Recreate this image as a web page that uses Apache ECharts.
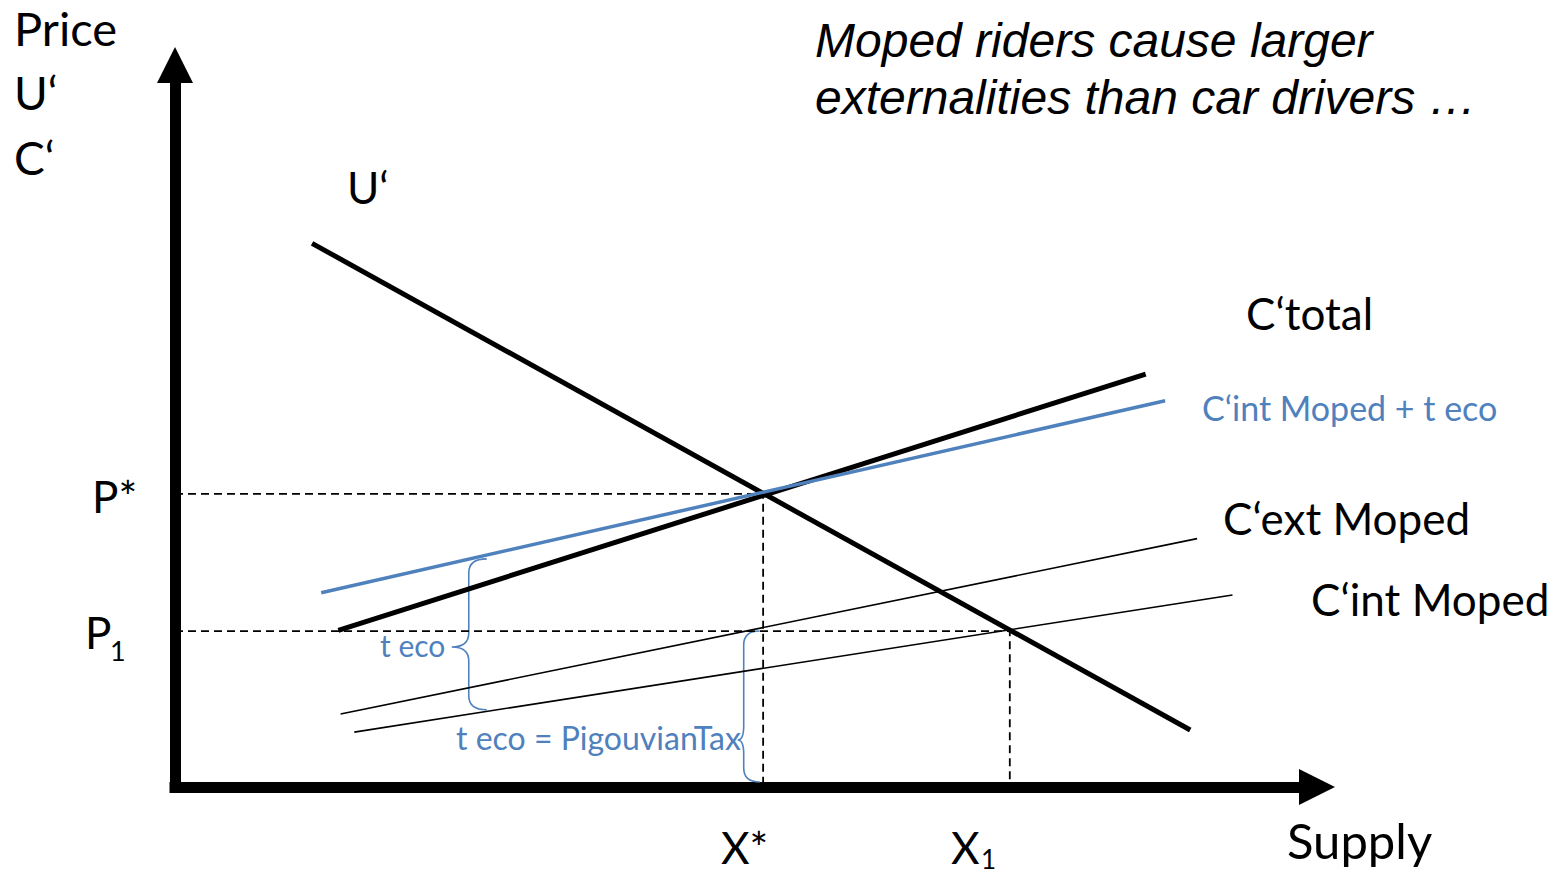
<!DOCTYPE html>
<html>
<head>
<meta charset="utf-8">
<title>Moped externalities</title>
<script src="https://cdn.jsdelivr.net/npm/echarts@6.0.0/dist/echarts.min.js"></script>
<style>
  html, body { margin: 0; padding: 0; background: #fff; }
  #main { width: 1560px; height: 874px; }
</style>
</head>
<body>
<div id="main"></div>
<script>
// curve end points in quantity / price units (both axes run 0 - 100)
const uMarginal = [[12.0, 75.3], [88.9, 7.9]];
const cTotal = [[14.3, 21.7], [85.0, 57.2]];
const cIntPlusTax = [[12.8, 26.9], [86.7, 53.5]];
const cExtMoped = [[14.5, 10.1], [89.5, 34.4]];
const cIntMoped = [[15.7, 7.6], [92.6, 26.6]];

// equilibrium points
const xStar = 51.5, pStar = 40.6;
const x1 = 73.1, p1 = 21.6;

// curly braces: [x, top, bottom, tip]
const braces = [
  [27.3, 31.6, 10.7, 19.4],
  [51.2, 21.6, 0.7, 6.5]
];

(function() {
  const chart = echarts.init(document.getElementById('main'), null, { renderer: 'svg' });
  const blue = '#4f81bd';
  const font = 'Lato';
  const braceDepth = [18, 16];
  const braceTip = [17, 6];

  function text(str, x, y, size, color, extra) {
    return {
      type: 'text',
      x: x,
      y: y,
      silent: true,
      style: Object.assign({
        text: str,
        fontFamily: font,
        fontSize: size,
        fill: color || '#000',
        textAlign: 'left',
        textVerticalAlign: 'middle'
      }, extra || {})
    };
  }

  function curve(data, width, color, dashed) {
    return {
      type: 'line',
      data: data,
      symbol: 'none',
      silent: true,
      animation: false,
      lineStyle: {
        width: width,
        color: color,
        type: dashed ? [8, 5] : 'solid'
      }
    };
  }

  const axisLine = {
    show: true,
    symbol: ['none', 'triangle'],
    symbolSize: [36, 36],
    lineStyle: { color: '#000', width: 11, cap: 'square' }
  };

  const option = {
    backgroundColor: '#fff',
    animation: false,
    grid: { left: 175, right: 243, top: 65, bottom: 87, outerBoundsMode: 'none' },
    xAxis: {
      type: 'value', min: 0, max: 100,
      axisLine: axisLine,
      axisTick: { show: false },
      axisLabel: { show: false },
      splitLine: { show: false }
    },
    yAxis: {
      type: 'value', min: 0, max: 100,
      axisLine: axisLine,
      axisTick: { show: false },
      axisLabel: { show: false },
      splitLine: { show: false }
    },
    series: [
      curve([[0, pStar], [xStar, pStar], [xStar, 0]], 1.8, '#000', true),
      curve([[0, p1], [x1, p1], [x1, 0]], 1.8, '#000', true),
      curve(cExtMoped, 1.6, '#000'),
      curve(cIntMoped, 1.6, '#000'),
      curve(cTotal, 5, '#000'),
      curve(uMarginal, 5, '#000'),
      curve(cIntPlusTax, 3.5, blue),
      {
        type: 'custom',
        data: braces,
        silent: true,
        animation: false,
        renderItem: function(params, api) {
          const x = api.value(0);
          const top = api.coord([x, api.value(1)]);
          const bot = api.coord([x, api.value(2)]);
          const tipY = api.coord([x, api.value(3)])[1];
          const d = braceDepth[params.dataIndex];
          const t = braceTip[params.dataIndex];
          const r = 14;
          const sx = top[0] - d;
          const path = [
            'M', top[0], top[1],
            'Q', sx, top[1], sx, top[1] + r,
            'L', sx, tipY - r,
            'Q', sx, tipY, sx - t, tipY,
            'Q', sx, tipY, sx, tipY + r,
            'L', sx, bot[1] - r,
            'Q', sx, bot[1], top[0], bot[1]
          ].join(' ');
          return {
            type: 'path',
            shape: { pathData: path },
            style: { stroke: blue, fill: 'none', lineWidth: 1.6 }
          };
        }
      }
    ],
    graphic: [
      text('Price', 14, 28, 47),
      text('U\u2018', 14, 92, 46),
      text('C\u2018', 14, 157, 46),
      text('U\u2018', 347, 187, 44),
      text('C\u2018total', 1246, 313, 44),
      text('C\u2018int Moped + t eco', 1202, 407, 34, blue),
      text('C\u2018ext Moped', 1223, 518, 44),
      text('C\u2018int Moped', 1311, 599, 44),
      text('P*', 92, 496, 44),
      text('P', 85, 632, 44),
      text('1', 110, 650, 27),
      text('X*', 721, 847, 44),
      text('X', 951, 847, 44),
      text('1', 981, 859, 26),
      text('Supply', 1287, 840, 49),
      text('t eco', 380, 645, 30, blue),
      text('t eco = PigouvianTax', 456, 737, 32, blue),
      text('Moped riders cause larger', 815, 40, 48, '#000',
        { fontFamily: 'Liberation Sans', fontStyle: 'italic' }),
      text('externalities than car drivers \u2026', 815, 97, 48, '#000',
        { fontFamily: 'Liberation Sans', fontStyle: 'italic' })
    ]
  };
  chart.setOption(option);

  window.onresize = function() {
    chart.resize();
  };
}());
</script>
</body>
</html>
